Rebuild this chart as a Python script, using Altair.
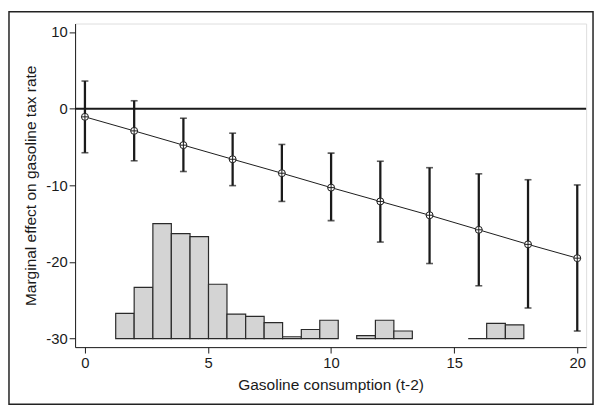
import altair as alt
import pandas as pd

# Marginal effect estimates at each gasoline consumption value
xs = [0, 2, 4, 6, 8, 10, 12, 14, 16, 18, 20]
effect = [-1.07, -2.9, -4.76, -6.6, -8.42, -10.3, -12.1, -13.9, -15.8, -17.7, -19.5]
ci_hi = [3.6, 1.03, -1.25, -3.2, -4.67, -5.8, -6.86, -7.7, -8.5, -9.27, -9.95]
ci_lo = [-5.75, -6.8, -8.2, -10.04, -12.1, -14.6, -17.4, -20.2, -23.1, -26.0, -29.0]

# Histogram of the moderator, drawn on the y scale above -30
bin_left = [1.25, 2.0, 2.76, 3.51, 4.27, 5.02, 5.77, 6.53, 7.28, 8.03, 8.79, 9.54,
            11.04, 11.8, 12.55, 15.57, 16.32, 17.08]
bin_right = [2.0, 2.76, 3.51, 4.27, 5.02, 5.77, 6.53, 7.28, 8.03, 8.79, 9.54, 10.29,
             11.8, 12.55, 13.3, 16.32, 17.08, 17.83]
bin_top = [-26.7, -23.3, -15.0, -16.3, -16.7, -22.9, -26.8, -27.1, -27.9, -29.75, -28.8, -27.6,
           -29.6, -27.6, -29.0, -30.0, -28.0, -28.2]
hist_base = -30

x_ticks = [0, 5, 10, 15, 20]
y_ticks = [-30, -20, -10, 0, 10]

FONT = "Liberation Sans"
INK = "#1a1a1a"

est = pd.DataFrame({"x": xs, "y": effect, "hi": ci_hi, "lo": ci_lo})
hist = pd.DataFrame({"l": bin_left, "r": bin_right, "t": bin_top,
                     "b": [hist_base] * len(bin_left)})

xscale = alt.Scale(domain=[-0.4, 20.36], nice=False, zero=False)
yscale = alt.Scale(domain=[-31.1, 11.1], nice=False, zero=False)

xaxis = alt.Axis(values=x_ticks, title="Gasoline consumption (t-2)", grid=False,
                 labelExpr="datum.value + ''", tickSize=6, labelPadding=3,
                 domainColor=INK, tickColor=INK, labelColor=INK, titleColor=INK,
                 labelFont=FONT, titleFont=FONT, labelFontSize=15, titleFontSize=15.7,
                 titleFontWeight="normal", titleBaseline="alphabetic", titleY=43)
yaxis = alt.Axis(values=y_ticks, title="Marginal effect on gasoline tax rate", grid=False,
                 labelExpr="datum.value + ''", tickSize=6, labelPadding=2,
                 domainColor=INK, tickColor=INK, labelColor=INK, titleColor=INK,
                 labelFont=FONT, titleFont=FONT, labelFontSize=15, titleFontSize=15.7,
                 titleFontWeight="normal", titleBaseline="alphabetic",
                 titleX=-40, titleY=164, titleAngle=270, titleAlign="center")

bars = alt.Chart(hist).mark_rect(fill="#d4d4d4", stroke="#2a2a2a", strokeWidth=1.2).encode(
    x=alt.X("l:Q", scale=xscale, axis=xaxis),
    x2="r:Q",
    y=alt.Y("b:Q", scale=yscale, axis=yaxis),
    y2="t:Q",
)

zero = alt.Chart(pd.DataFrame({"z": [0]})).mark_rule(color=INK, strokeWidth=2).encode(
    y=alt.Y("z:Q", scale=yscale)
)

base = alt.Chart(est)

bars_ci = base.mark_rule(color=INK, strokeWidth=2.3).encode(
    x=alt.X("x:Q", scale=xscale), y=alt.Y("lo:Q", scale=yscale), y2="hi:Q"
)
cap_hi = base.mark_tick(color=INK, thickness=1.6, size=7, orient="horizontal").encode(
    x=alt.X("x:Q", scale=xscale), y=alt.Y("hi:Q", scale=yscale)
)
cap_lo = base.mark_tick(color=INK, thickness=1.6, size=7, orient="horizontal").encode(
    x=alt.X("x:Q", scale=xscale), y=alt.Y("lo:Q", scale=yscale)
)
line = base.mark_line(color=INK, strokeWidth=1).encode(
    x=alt.X("x:Q", scale=xscale), y=alt.Y("y:Q", scale=yscale)
)
circ = base.mark_point(shape="circle", filled=True, fill="white", stroke=INK,
                       strokeWidth=1, size=50, opacity=1).encode(
    x=alt.X("x:Q", scale=xscale), y=alt.Y("y:Q", scale=yscale)
)
plus = base.mark_point(shape="M-1,0L1,0M0,-1L0,1", filled=False, stroke=INK,
                       strokeWidth=1, size=50, opacity=1).encode(
    x=alt.X("x:Q", scale=xscale), y=alt.Y("y:Q", scale=yscale)
)

frame = alt.Chart(pd.DataFrame({"a": [0]})).mark_rect(
    fill=None, fillOpacity=0, stroke="#222", strokeWidth=1.5
).encode(
    x=alt.value(-67), x2=alt.value(525), y=alt.value(-12), y2=alt.value(386)
)

chart = alt.layer(bars, zero, bars_ci, cap_hi, cap_lo, line, circ, plus, frame).properties(
    width=518, height=328,
    autosize=alt.AutoSizeParams(type="none"),
    padding={"left": 68, "top": 13, "right": 9, "bottom": 61},
).configure_view(stroke="#333", strokeWidth=1.2).configure(background="white")

chart.save("out.html", embed_options={"renderer": "svg", "actions": False})
